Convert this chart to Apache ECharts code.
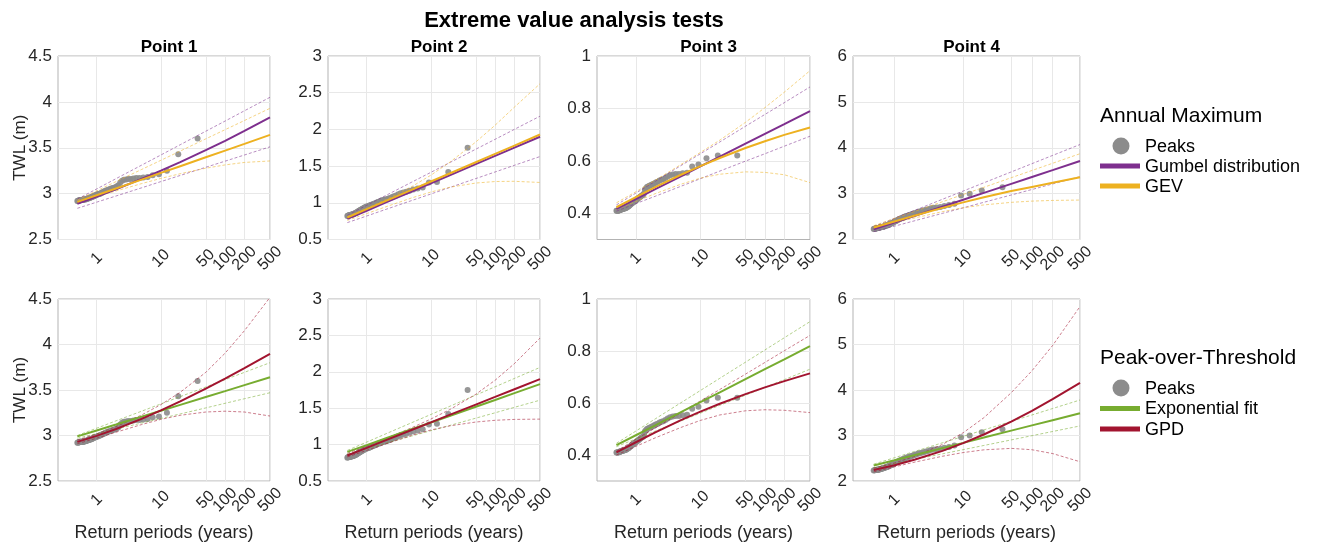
<!DOCTYPE html>
<html>
<head>
<meta charset="utf-8">
<script src="https://cdn.jsdelivr.net/npm/echarts@6/dist/echarts.min.js"></script>
<style>
  html, body { margin: 0; padding: 0; background: #ffffff; }
  #chart { width: 1322px; height: 551px; }
</style>
</head>
<body>
<div id="chart"></div>
<script>
// ---- Return periods (years) of the plotted peaks (plotting positions) ----
const PEAK_T = [37.30, 18.65, 12.43, 9.33, 7.46, 6.22, 5.33, 4.66, 4.14, 3.73,
  3.39, 3.11, 2.87, 2.66, 2.49, 2.33, 2.19, 2.07, 1.96, 1.87,
  1.78, 1.70, 1.62, 1.55, 1.49, 1.43, 1.38, 1.33, 1.29, 1.24,
  1.20, 1.17, 1.13, 1.10, 1.07, 1.04, 1.01, 0.98, 0.96, 0.93,
  0.91, 0.89, 0.87, 0.85, 0.83, 0.81, 0.79, 0.78, 0.76, 0.75,
  0.73, 0.72, 0.70, 0.69, 0.68, 0.67, 0.65, 0.64, 0.63, 0.62,
  0.61, 0.60, 0.59, 0.58, 0.57, 0.57, 0.56, 0.55, 0.54, 0.53,
  0.53, 0.52, 0.51, 0.50];

// ---- Peak TWL values (m) at each point ----
const PEAKS_P1 = [3.60, 3.43, 3.25, 3.21, 3.20, 3.18, 3.175, 3.17, 3.17, 3.165,
  3.16, 3.16, 3.155, 3.15, 3.14, 3.12, 3.09, 3.08, 3.07, 3.065,
  3.06, 3.055, 3.05, 3.045, 3.04, 3.035, 3.03, 3.025, 3.02, 3.015,
  3.01, 3.005, 3.00, 3.00, 2.995, 2.99, 2.99, 2.985, 2.98, 2.98,
  2.975, 2.97, 2.97, 2.965, 2.96, 2.96, 2.955, 2.955, 2.95, 2.95,
  2.95, 2.945, 2.945, 2.94, 2.94, 2.94, 2.935, 2.935, 2.935, 2.935,
  2.93, 2.93, 2.93, 2.93, 2.93, 2.93, 2.93, 2.93, 2.925, 2.925,
  2.925, 2.925, 2.92, 2.92];
const PEAKS_P2 = [1.75, 1.42, 1.285, 1.275, 1.21, 1.195, 1.18, 1.165, 1.15, 1.14,
  1.13, 1.115, 1.10, 1.09, 1.08, 1.065, 1.06, 1.05, 1.045, 1.04,
  1.035, 1.03, 1.02, 1.015, 1.01, 1.00, 0.995, 0.99, 0.985, 0.98,
  0.975, 0.97, 0.965, 0.96, 0.955, 0.95, 0.95, 0.945, 0.94, 0.935,
  0.93, 0.925, 0.92, 0.915, 0.91, 0.905, 0.90, 0.895, 0.89, 0.885,
  0.88, 0.875, 0.87, 0.865, 0.86, 0.86, 0.855, 0.85, 0.85, 0.845,
  0.845, 0.84, 0.84, 0.84, 0.835, 0.835, 0.835, 0.83, 0.83, 0.83,
  0.83, 0.825, 0.825, 0.82];
const PEAKS_P3 = [0.62, 0.62, 0.61, 0.586, 0.578, 0.555, 0.553, 0.55, 0.55, 0.548,
  0.545, 0.54, 0.535, 0.53, 0.528, 0.525, 0.52, 0.518, 0.515, 0.512,
  0.51, 0.507, 0.505, 0.502, 0.50, 0.495, 0.49, 0.475, 0.47, 0.468,
  0.465, 0.463, 0.46, 0.458, 0.455, 0.453, 0.45, 0.448, 0.446, 0.444,
  0.442, 0.44, 0.438, 0.436, 0.434, 0.432, 0.43, 0.428, 0.426, 0.425,
  0.424, 0.422, 0.42, 0.42, 0.419, 0.418, 0.418, 0.417, 0.416, 0.416,
  0.415, 0.415, 0.414, 0.414, 0.413, 0.413, 0.412, 0.412, 0.411, 0.411,
  0.41, 0.41, 0.41, 0.41];
const PEAKS_P4 = [3.14, 3.07, 3.00, 2.96, 2.78, 2.75, 2.73, 2.71, 2.70, 2.69,
  2.68, 2.66, 2.65, 2.63, 2.62, 2.61, 2.60, 2.58, 2.57, 2.56,
  2.55, 2.54, 2.53, 2.52, 2.51, 2.50, 2.49, 2.48, 2.47, 2.46,
  2.45, 2.44, 2.43, 2.42, 2.41, 2.40, 2.39, 2.38, 2.37, 2.36,
  2.355, 2.35, 2.34, 2.335, 2.33, 2.32, 2.315, 2.31, 2.30, 2.30,
  2.295, 2.29, 2.285, 2.28, 2.28, 2.275, 2.27, 2.27, 2.265, 2.26,
  2.26, 2.255, 2.255, 2.25, 2.25, 2.25, 2.245, 2.245, 2.24, 2.24,
  2.24, 2.235, 2.235, 2.23];

// ---- Return periods at which the fitted curves are evaluated ----
const FIT_T = [0.5, 1, 2, 5, 10, 20, 50, 100, 200, 500];

// ---- Annual maximum: Gumbel and GEV fits with confidence bounds ----
const GUMBEL_P1    = [2.89, 2.967, 3.048, 3.16, 3.25, 3.344, 3.474, 3.576, 3.683, 3.83];
const GUMBEL_P1_UP = [2.94, 3.051, 3.163, 3.31, 3.421, 3.533, 3.68, 3.791, 3.903, 4.05];
const GUMBEL_P1_LO = [2.84, 2.907, 2.974, 3.063, 3.131, 3.198, 3.287, 3.354, 3.421, 3.51];
const GEV_P1       = [2.91, 2.983, 3.056, 3.153, 3.226, 3.299, 3.396, 3.469, 3.542, 3.64];
const GEV_P1_UP    = [2.93, 3.03, 3.131, 3.263, 3.363, 3.464, 3.597, 3.697, 3.797, 3.93];
const GEV_P1_LO    = [2.90, 2.966, 3.029, 3.109, 3.166, 3.217, 3.277, 3.313, 3.34, 3.356];

const GUMBEL_P2    = [0.78, 0.892, 1.005, 1.153, 1.266, 1.378, 1.527, 1.639, 1.751, 1.90];
const GUMBEL_P2_UP = [0.83, 0.965, 1.101, 1.28, 1.415, 1.551, 1.73, 1.865, 2.001, 2.18];
const GUMBEL_P2_LO = [0.73, 0.82, 0.911, 1.03, 1.12, 1.211, 1.33, 1.42, 1.511, 1.63];
const GEV_P2       = [0.80, 0.913, 1.027, 1.177, 1.29, 1.403, 1.553, 1.667, 1.78, 1.93];
const GEV_P2_UP    = [0.81, 0.924, 1.044, 1.219, 1.376, 1.557, 1.828, 2.057, 2.304, 2.622];
const GEV_P2_LO    = [0.76, 0.853, 0.946, 1.066, 1.147, 1.213, 1.269, 1.29, 1.293, 1.277];

const GUMBEL_P3    = [0.417, 0.454, 0.492, 0.541, 0.579, 0.616, 0.666, 0.703, 0.74, 0.79];
const GUMBEL_P3_UP = [0.432, 0.477, 0.522, 0.582, 0.627, 0.672, 0.732, 0.777, 0.822, 0.882];
const GUMBEL_P3_LO = [0.408, 0.437, 0.465, 0.503, 0.532, 0.561, 0.599, 0.627, 0.656, 0.694];
const GEV_P3       = [0.423, 0.462, 0.50, 0.547, 0.58, 0.611, 0.649, 0.675, 0.699, 0.727];
const GEV_P3_UP    = [0.44, 0.482, 0.526, 0.586, 0.632, 0.679, 0.747, 0.803, 0.862, 0.944];
const GEV_P3_LO    = [0.415, 0.445, 0.475, 0.511, 0.534, 0.549, 0.558, 0.556, 0.547, 0.517];

const GUMBEL_P4    = [2.22, 2.37, 2.519, 2.717, 2.866, 3.016, 3.213, 3.363, 3.512, 3.71];
const GUMBEL_P4_UP = [2.28, 2.46, 2.639, 2.877, 3.056, 3.236, 3.473, 3.653, 3.833, 4.07];
const GUMBEL_P4_LO = [2.17, 2.29, 2.411, 2.57, 2.69, 2.811, 2.97, 3.09, 3.211, 3.37];
const GEV_P4       = [2.26, 2.392, 2.522, 2.689, 2.809, 2.921, 3.056, 3.146, 3.236, 3.355];
const GEV_P4_UP    = [2.30, 2.458, 2.615, 2.823, 2.981, 3.138, 3.347, 3.504, 3.662, 3.87];
const GEV_P4_LO    = [2.24, 2.36, 2.472, 2.607, 2.691, 2.754, 2.81, 2.837, 2.852, 2.86];

// ---- Peak-over-threshold: exponential and GPD fits with confidence bounds ----
const EXP_P1    = [2.99, 3.055, 3.12, 3.207, 3.272, 3.337, 3.423, 3.488, 3.554, 3.64];
const EXP_P1_UP = [3.00, 3.08, 3.161, 3.267, 3.347, 3.427, 3.533, 3.614, 3.694, 3.80];
const EXP_P1_LO = [2.97, 3.02, 3.07, 3.137, 3.187, 3.237, 3.303, 3.354, 3.404, 3.47];
const GPD_P1    = [2.93, 2.996, 3.071, 3.183, 3.276, 3.375, 3.515, 3.626, 3.741, 3.896];
const GPD_P1_UP = [2.95, 3.016, 3.097, 3.225, 3.339, 3.475, 3.694, 3.905, 4.152, 4.518];
const GPD_P1_LO = [2.91, 2.97, 3.036, 3.12, 3.177, 3.222, 3.258, 3.267, 3.258, 3.214];

const EXP_P2    = [0.90, 0.993, 1.087, 1.21, 1.303, 1.397, 1.52, 1.613, 1.707, 1.83];
const EXP_P2_UP = [0.92, 1.034, 1.149, 1.30, 1.414, 1.529, 1.68, 1.794, 1.909, 2.06];
const EXP_P2_LO = [0.87, 0.944, 1.019, 1.117, 1.191, 1.265, 1.363, 1.437, 1.512, 1.61];
const GPD_P2    = [0.85, 0.955, 1.061, 1.20, 1.305, 1.411, 1.55, 1.655, 1.761, 1.90];
const GPD_P2_UP = [0.88, 0.979, 1.084, 1.231, 1.351, 1.484, 1.691, 1.884, 2.113, 2.463];
const GPD_P2_LO = [0.83, 0.92, 1.011, 1.126, 1.201, 1.258, 1.31, 1.334, 1.346, 1.35];

const EXP_P3    = [0.438, 0.476, 0.514, 0.565, 0.603, 0.641, 0.692, 0.73, 0.768, 0.819];
const EXP_P3_UP = [0.445, 0.492, 0.539, 0.601, 0.648, 0.695, 0.757, 0.804, 0.851, 0.913];
const EXP_P3_LO = [0.432, 0.462, 0.492, 0.531, 0.561, 0.591, 0.63, 0.66, 0.69, 0.73];
const GPD_P3    = [0.41, 0.449, 0.487, 0.534, 0.567, 0.597, 0.634, 0.66, 0.684, 0.714];
const GPD_P3_UP = [0.415, 0.46, 0.504, 0.563, 0.608, 0.652, 0.711, 0.756, 0.801, 0.86];
const GPD_P3_LO = [0.40, 0.433, 0.466, 0.506, 0.533, 0.554, 0.57, 0.574, 0.572, 0.563];

const EXP_P4    = [2.34, 2.455, 2.571, 2.723, 2.838, 2.954, 3.107, 3.222, 3.337, 3.49];
const EXP_P4_UP = [2.37, 2.511, 2.653, 2.84, 2.981, 3.123, 3.31, 3.451, 3.593, 3.78];
const EXP_P4_LO = [2.29, 2.382, 2.475, 2.597, 2.689, 2.781, 2.903, 2.996, 3.088, 3.21];
const GPD_P4    = [2.24, 2.348, 2.472, 2.663, 2.832, 3.022, 3.305, 3.543, 3.799, 4.157];
const GPD_P4_UP = [2.28, 2.394, 2.545, 2.804, 3.06, 3.391, 3.94, 4.422, 4.979, 5.835];
const GPD_P4_LO = [2.20, 2.311, 2.417, 2.544, 2.625, 2.685, 2.717, 2.687, 2.603, 2.424];

// ---- Axis ticks ----
const X_TICKS = [1, 10, 50, 100, 200, 500];
const Y_TICKS_P1 = [2.5, 3, 3.5, 4, 4.5];
const Y_TICKS_P2 = [0.5, 1, 1.5, 2, 2.5, 3];
const Y_TICKS_P3 = [0.4, 0.6, 0.8, 1];
const Y_TICKS_P4 = [2, 3, 4, 5, 6];
const Y_RANGES = [[2.5, 4.5], [0.5, 3], [0.3, 1], [2, 6]];
const POINT_TITLES = ['Point 1', 'Point 2', 'Point 3', 'Point 4'];

// ---- Styling ----
const FONT = "'Liberation Sans', Arial, Helvetica, sans-serif";
const TEXT = '#262626';
const PURPLE = '#7E2F8E', ORANGE = '#EDB120', GREEN = '#77AC30', RED = '#A2142F';
const PEAK_COLOR = '#8c8c8c';

const COL_LEFT = [58, 328, 597, 853];
const COL_WIDTH = [212, 212, 213, 227];
const ROW_TOP = [56, 299];
const ROW_HEIGHT = [183.5, 182];

const Y_TICKS = [Y_TICKS_P1, Y_TICKS_P2, Y_TICKS_P3, Y_TICKS_P4];
const PEAKS = [PEAKS_P1, PEAKS_P2, PEAKS_P3, PEAKS_P4];
const ROW_FITS = [
  [ // annual maximum row
    [[GUMBEL_P1, GUMBEL_P1_UP, GUMBEL_P1_LO], [GEV_P1, GEV_P1_UP, GEV_P1_LO]],
    [[GUMBEL_P2, GUMBEL_P2_UP, GUMBEL_P2_LO], [GEV_P2, GEV_P2_UP, GEV_P2_LO]],
    [[GUMBEL_P3, GUMBEL_P3_UP, GUMBEL_P3_LO], [GEV_P3, GEV_P3_UP, GEV_P3_LO]],
    [[GUMBEL_P4, GUMBEL_P4_UP, GUMBEL_P4_LO], [GEV_P4, GEV_P4_UP, GEV_P4_LO]]
  ],
  [ // peak-over-threshold row
    [[EXP_P1, EXP_P1_UP, EXP_P1_LO], [GPD_P1, GPD_P1_UP, GPD_P1_LO]],
    [[EXP_P2, EXP_P2_UP, EXP_P2_LO], [GPD_P2, GPD_P2_UP, GPD_P2_LO]],
    [[EXP_P3, EXP_P3_UP, EXP_P3_LO], [GPD_P3, GPD_P3_UP, GPD_P3_LO]],
    [[EXP_P4, EXP_P4_UP, EXP_P4_LO], [GPD_P4, GPD_P4_UP, GPD_P4_LO]]
  ]
];
const ROW_NAMES = [['Gumbel distribution', 'GEV'], ['Exponential fit', 'GPD']];
const ROW_COLORS = [[PURPLE, ORANGE], [GREEN, RED]];

const grids = [], xAxes = [], yAxes = [], series = [];

for (let r = 0; r < 2; r++) {
  for (let c = 0; c < 4; c++) {
    const k = r * 4 + c;
    grids.push({
      left: COL_LEFT[c], top: ROW_TOP[r], width: COL_WIDTH[c], height: ROW_HEIGHT[r],
      show: true, borderColor: '#b3b3b3', borderWidth: 1, backgroundColor: 'transparent',
      outerBoundsMode: 'none', containLabel: false
    });
    xAxes.push({
      type: 'log', logBase: 10, gridIndex: k, min: 0.25, max: 500,
      axisLine: { show: false },
      axisTick: { show: false, customValues: X_TICKS },
      axisLabel: {
        customValues: X_TICKS, rotate: 45, align: 'center', verticalAlign: 'middle',
        margin: 19, fontSize: 16, color: TEXT, fontFamily: FONT, hideOverlap: false
      },
      splitLine: { show: true, lineStyle: { color: '#e8e8e8', width: 1 } },
      name: r === 1 ? 'Return periods (years)' : '',
      nameLocation: 'middle', nameGap: 43,
      nameTextStyle: { fontSize: 18, color: TEXT, fontFamily: FONT }
    });
    yAxes.push({
      type: 'value', gridIndex: k, min: Y_RANGES[c][0], max: Y_RANGES[c][1],
      axisLine: { show: false },
      axisTick: { show: false, customValues: Y_TICKS[c] },
      axisLabel: { customValues: Y_TICKS[c], fontSize: 17, color: TEXT, fontFamily: FONT, margin: 6 },
      splitLine: { show: true, lineStyle: { color: '#e8e8e8', width: 1 } },
      name: c === 0 ? 'TWL (m)' : '',
      nameLocation: 'middle', nameGap: 29, nameRotate: 90, nameMoveOverlap: false,
      nameTextStyle: { fontSize: 17, color: TEXT, fontFamily: FONT }
    });

    series.push({
      type: 'scatter', name: 'Peaks', xAxisIndex: k, yAxisIndex: k,
      data: PEAK_T.map((t, i) => [t, PEAKS[c][i]]),
      symbol: 'circle', symbolSize: 6,
      itemStyle: { color: PEAK_COLOR, opacity: 0.9 },
      z: 2, silent: true
    });

    ROW_FITS[r][c].forEach((fit, f) => {
      const color = ROW_COLORS[r][f];
      const name = ROW_NAMES[r][f];
      const [mid, up, lo] = fit;
      [up, lo].forEach(bound => {
        series.push({
          type: 'line', name: name + ' bound', xAxisIndex: k, yAxisIndex: k,
          data: FIT_T.map((t, i) => [t, bound[i]]),
          symbol: 'none', smooth: false, clip: true,
          lineStyle: { color: color, width: 1, type: [3, 2], opacity: 0.55 },
          z: 3, silent: true
        });
      });
      series.push({
        type: 'line', name: name, xAxisIndex: k, yAxisIndex: k,
        data: FIT_T.map((t, i) => [t, mid[i]]),
        symbol: 'none', smooth: false, clip: true,
        lineStyle: { color: color, width: 2 },
        z: 4, silent: true
      });
    });
  }
}

const titles = [{
  text: 'Extreme value analysis tests', left: 569, top: 5, textAlign: 'center',
  textStyle: { fontSize: 22, fontWeight: 'bold', color: '#000', fontFamily: FONT }
}];
POINT_TITLES.forEach((t, c) => {
  titles.push({
    text: t, left: COL_LEFT[c] + COL_WIDTH[c] / 2, top: 34, textAlign: 'center',
    textStyle: { fontSize: 17, fontWeight: 'bold', color: '#000', fontFamily: FONT }
  });
});

// Legend blocks drawn beside the right-hand panels
function legendBlock(title, titleY, rows, rowYs) {
  const els = [{
    type: 'text', x: 1100, y: titleY,
    style: { text: title, fontSize: 21, fontFamily: FONT, fill: '#000', verticalAlign: 'middle', align: 'left' }
  }];
  rows.forEach((row, i) => {
    const y = rowYs[i];
    if (row.marker === 'circle') {
      els.push({ type: 'circle', shape: { cx: 1121, cy: y, r: 8.5 }, style: { fill: PEAK_COLOR } });
    } else {
      els.push({ type: 'rect', shape: { x: 1100, y: y - 2.5, width: 40, height: 5 }, style: { fill: row.color } });
    }
    els.push({
      type: 'text', x: 1145, y: y + 1,
      style: { text: row.label, fontSize: 18, fontFamily: FONT, fill: '#000', verticalAlign: 'middle', align: 'left' }
    });
  });
  return els;
}

const graphic = [].concat(
  legendBlock('Annual Maximum', 116,
    [{ marker: 'circle', label: 'Peaks' }, { color: PURPLE, label: 'Gumbel distribution' }, { color: ORANGE, label: 'GEV' }],
    [146, 166, 186]),
  legendBlock('Peak-over-Threshold', 358,
    [{ marker: 'circle', label: 'Peaks' }, { color: GREEN, label: 'Exponential fit' }, { color: RED, label: 'GPD' }],
    [388, 408.5, 429])
);

const chart = echarts.init(document.getElementById('chart'), null, { renderer: 'canvas' });
chart.setOption({
  animation: false,
  backgroundColor: '#ffffff',
  textStyle: { fontFamily: FONT },
  title: titles,
  grid: grids,
  xAxis: xAxes,
  yAxis: yAxes,
  series: series,
  graphic: graphic
});
</script>
</body>
</html>
